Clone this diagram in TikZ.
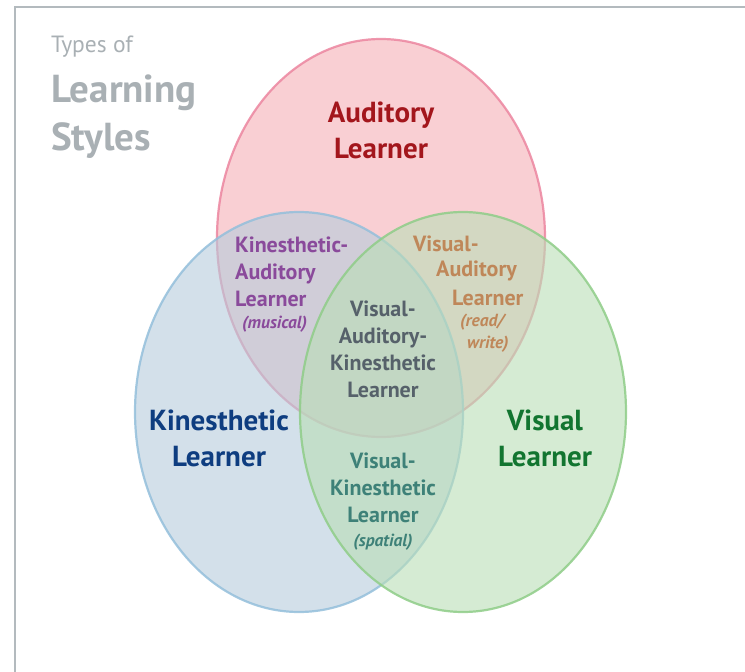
\documentclass[tikz,border=0pt]{standalone}
\usepackage{fontspec}
\setmainfont{PT Sans}
\usepackage{xcolor}
\usepackage{tikz}
\usetikzlibrary{positioning}

\definecolor{framegray}{HTML}{B3BABE}
\definecolor{titlegray}{HTML}{A9B0B4}
\definecolor{audfill}{RGB}{245,175,182}
\definecolor{audline}{HTML}{EC86A0}
\definecolor{kinfill}{RGB}{182,203,220}
\definecolor{kinline}{HTML}{94BFDB}
\definecolor{visfill}{RGB}{185,222,182}
\definecolor{visline}{HTML}{8FCD88}
\definecolor{audtext}{HTML}{A3161C}
\definecolor{kintext}{HTML}{0E3D80}
\definecolor{vistext}{HTML}{127530}
\definecolor{katext}{HTML}{8A4A9B}
\definecolor{vatext}{HTML}{BF8759}
\definecolor{vaktext}{HTML}{56616A}
\definecolor{vktext}{HTML}{3E8178}

\tikzset{
  setcircle/.style={fill opacity=0.6, draw opacity=0.85, line width=2.2},
  biglabel/.style={font=\bfseries\fontsize{29}{36}\selectfont, align=center, inner sep=0},
  midlabel/.style={font=\bfseries\fontsize{22}{27}\selectfont, align=center, inner sep=0},
  smalllabel/.style={font=\bfseries\itshape\fontsize{17.5}{22}\selectfont, inner sep=0}
}

\begin{document}
\begin{tikzpicture}[x=1pt,y=-1pt]
  \useasboundingbox (0,0) rectangle (745,672);
  % Frame
  \draw[framegray, line width=2] (15,672) -- (15,7) -- (745,7);
  % Title
  \node[anchor=west, inner sep=0, text=titlegray, font=\fontsize{23.5}{28}\selectfont] (types) at (51,47) {Types of};
  \node[anchor=west, inner sep=0, text=titlegray, font=\bfseries\fontsize{39}{48}\selectfont] (learning) at (51,93) {Learning};
  \node[anchor=west, inner sep=0, text=titlegray, font=\bfseries\fontsize{39}{48}\selectfont] (styles) at (51,141) {Styles};
  % Sets
  \draw[setcircle, fill=audfill, draw=audline] (381,238) ellipse (164 and 199);
  \draw[setcircle, fill=kinfill, draw=kinline] (299,412) ellipse (164 and 200);
  \draw[setcircle, fill=visfill, draw=visline] (463,412) ellipse (163 and 200);
  % Main labels
  \node[biglabel, text=audtext] (aud) at (381,130) {Auditory\\Learner};
  \node[biglabel, text=kintext] (kin) at (219,438) {Kinesthetic\\Learner};
  \node[biglabel, text=vistext] (vis) at (545,438) {Visual\\Learner};
  % Overlaps
  \node[midlabel, text=katext, align=left, anchor=west] (ka) at (235,272) {Kinesthetic-\\Auditory\\Learner};
  \node[smalllabel, text=katext, anchor=west] (kamus) at (242,324) {(musical)};
  \node[midlabel, text=vatext, anchor=west] (va1) at (413,244) {Visual-};
  \node[midlabel, text=vatext, anchor=west] (va2) at (436,271) {Auditory};
  \node[midlabel, text=vatext, anchor=west] (va3) at (452,298) {Learner};
  \node[smalllabel, text=vatext, anchor=west] (va4) at (460,322) {(read/};
  \node[smalllabel, text=vatext, anchor=west] (va5) at (467,344) {write)};
  \node[midlabel, text=vaktext] (vak) at (383,349) {Visual-\\Auditory-\\Kinesthetic\\Learner};
  \node[midlabel, text=vktext] (vk) at (383,488) {Visual-\\Kinesthetic\\Learner};
  \node[smalllabel, text=vktext] (vksp) at (383,542) {(spatial)};
\end{tikzpicture}
\end{document}
